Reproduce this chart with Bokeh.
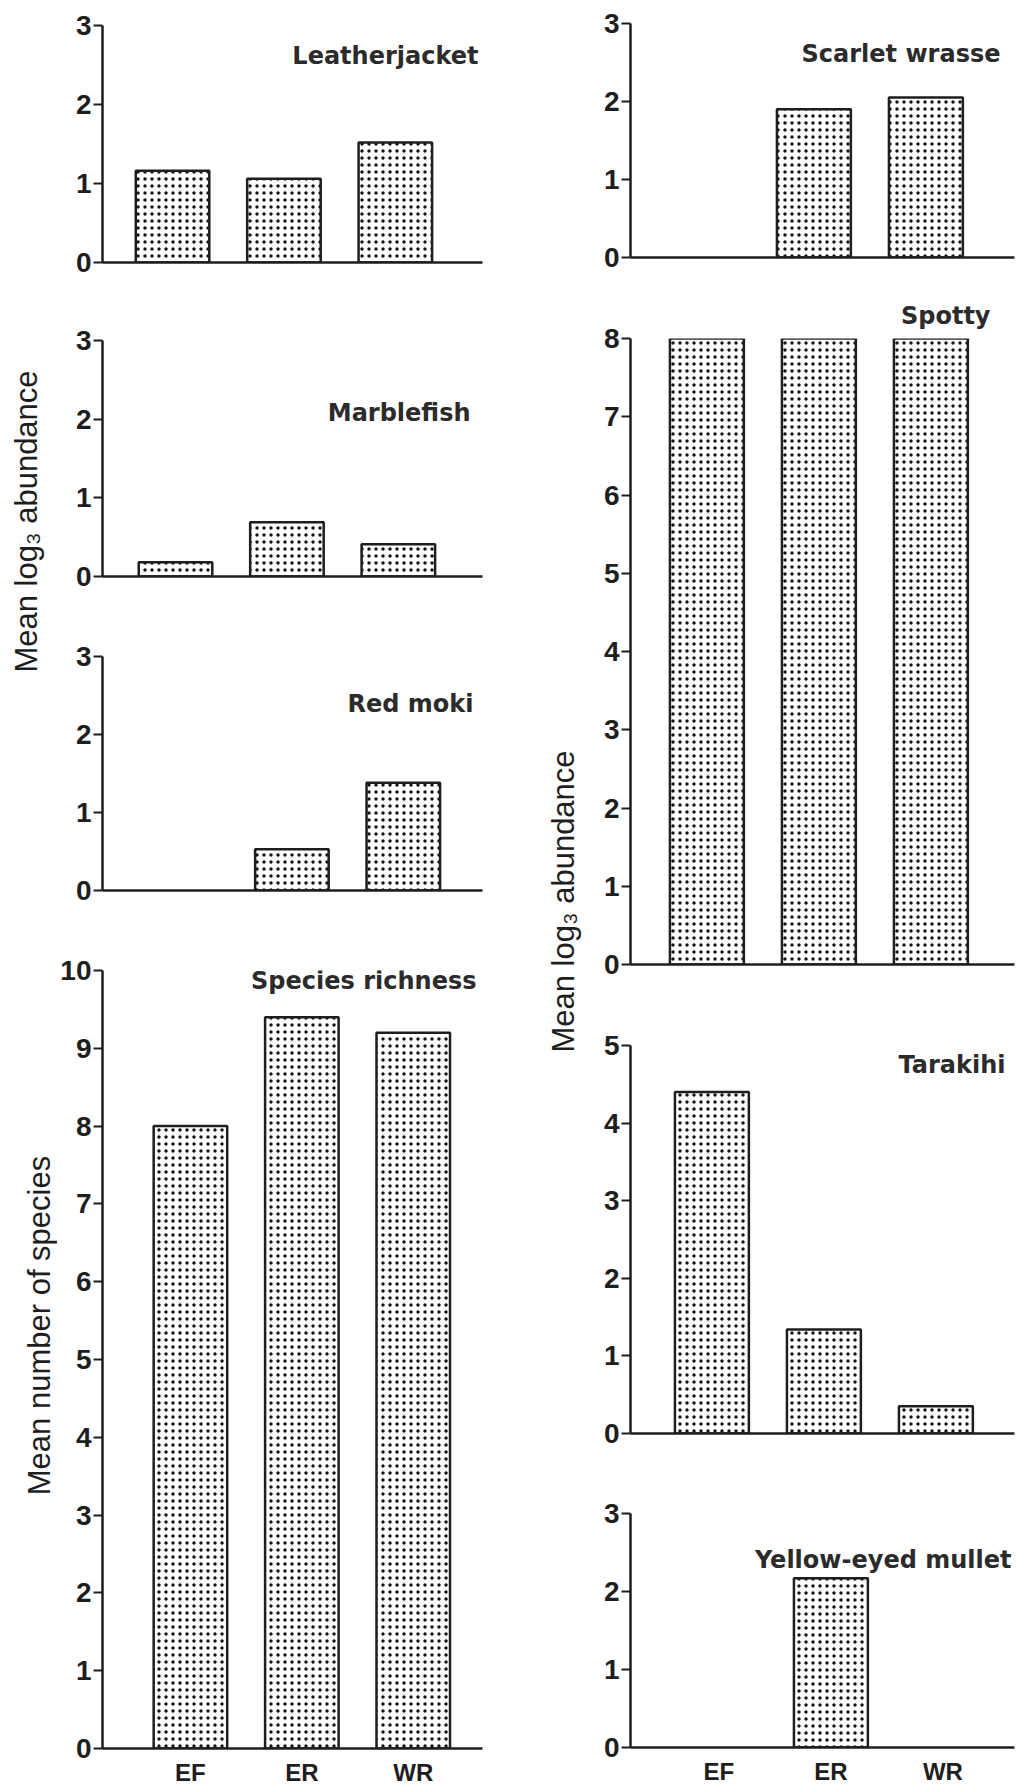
from math import pi
from bokeh.plotting import figure
from bokeh.models import Range1d, FixedTicker, Label
from bokeh.layouts import row, column
from bokeh.embed import file_html
from bokeh.resources import INLINE

# ---------------- data ----------------
sites = ["EF", "ER", "WR"]
leatherjacket = [1.16, 1.06, 1.52]
marblefish = [0.18, 0.69, 0.41]
red_moki = [0.0, 0.53, 1.38]
species_richness = [8.0, 9.4, 9.2]
scarlet_wrasse = [0.0, 1.90, 2.05]
spotty = [8.0, 8.0, 8.0]
tarakihi = [4.40, 1.34, 0.35]
yellow_eyed_mullet = [0.0, 2.17, 0.0]

abundance_label = "Mean log\u2083 abundance"
richness_label = "Mean number of species"

# ---------------- style ----------------
INK = "#1e1e1e"
TICK_FONT = "Liberation Sans"
TITLE_FONT = "DejaVu Sans"
LABEL_FONT = "Liberation Sans"
PX_PER_UNIT = 112.0
BAR_W = 0.66


def panel(title, values, ymax, cw, ch, left, top, fw, fh, axis_ref, tdx, tdy,
          show_sites, title_above=False):
    frame_left_abs = cw_offset[cw] + left
    start = 0.3 - (axis_ref - frame_left_abs) / PX_PER_UNIT
    end = start + fw / PX_PER_UNIT
    p = figure(width=cw, height=ch, output_backend="svg", toolbar_location=None,
               x_range=Range1d(start, end), y_range=Range1d(0, ymax),
               min_border_left=left, min_border_top=top,
               min_border_right=cw - left - fw, min_border_bottom=ch - top - fh,
               background_fill_color="white", border_fill_color="white")
    p.outline_line_color = None
    p.grid.visible = False
    xs = [i + 1 for i, v in enumerate(values) if v > 0]
    tops = [v for v in values if v > 0]
    p.vbar(x=xs, top=tops, bottom=0, width=BAR_W,
           fill_color="white", line_color=INK, line_width=2.5,
           hatch_pattern=".", hatch_color="#151515", hatch_scale=7, hatch_weight=0.8)
    # y axis
    ya = p.yaxis[0]
    ya.ticker = FixedTicker(ticks=list(range(0, ymax + 1)))
    ya.axis_line_width = 2.5
    ya.axis_line_color = INK
    ya.major_tick_line_width = 2
    ya.major_tick_line_color = INK
    ya.major_tick_out = 9
    ya.major_tick_in = 0
    ya.minor_tick_out = 0
    ya.minor_tick_in = 0
    ya.major_label_standoff = 2
    ya.major_label_text_font = TICK_FONT
    ya.major_label_text_font_style = "bold"
    ya.major_label_text_font_size = "28px"
    ya.major_label_text_color = INK
    # x axis
    xa = p.xaxis[0]
    xa.axis_line_width = 2.5
    xa.axis_line_color = INK
    xa.major_tick_out = 0
    xa.major_tick_in = 0
    xa.minor_tick_out = 0
    xa.minor_tick_in = 0
    if show_sites:
        xa.ticker = FixedTicker(ticks=[1, 2, 3])
        xa.major_label_overrides = {i + 1: s for i, s in enumerate(sites)}
        xa.major_label_standoff = 10
        xa.major_label_text_font = TICK_FONT
        xa.major_label_text_font_style = "bold"
        xa.major_label_text_font_size = "24px"
        xa.major_label_text_color = INK
    else:
        xa.ticker = FixedTicker(ticks=[])
    if title_above:
        p.title.text = title
        p.title.align = "right"
        p.title.offset = tdx
        p.title.standoff = tdy
        p.title.text_font = TITLE_FONT
        p.title.text_font_style = "bold"
        p.title.text_font_size = "24px"
        p.title.text_color = "#2b2b2b"
    else:
        p.add_layout(Label(x=end, y=ymax, x_offset=tdx, y_offset=tdy, text=title,
                           text_align="right", text_baseline="alphabetic",
                           text_font=TITLE_FONT, text_font_style="bold",
                           text_font_size="24px", text_color="#2b2b2b"))
    return p


def strip(w, h, labels):
    s = figure(width=w, height=h, output_backend="svg", toolbar_location=None,
               x_range=Range1d(0, w), y_range=Range1d(h, 0),
               x_axis_type=None, y_axis_type=None, min_border=0,
               background_fill_color="white", border_fill_color="white")
    s.outline_line_color = None
    s.grid.visible = False
    for (x, y, t) in labels:
        s.add_layout(Label(x=x, y=y, text=t, angle=pi / 2, text_align="center",
                           text_baseline="middle", text_font=LABEL_FONT,
                           text_font_size="31px", text_color=INK))
    return s


LEFT_STRIP_W, LEFT_COL_W, RIGHT_STRIP_W, RIGHT_COL_W = 57, 451, 77, 431
cw_offset = {LEFT_COL_W: LEFT_STRIP_W, RIGHT_COL_W: LEFT_STRIP_W + LEFT_COL_W + RIGHT_STRIP_W}

# left column
L1 = panel("Leatherjacket", leatherjacket, 3, LEFT_COL_W, 300, 43, 25, 382, 237, 92, -4, -30, False)
L2 = panel("Marblefish", marblefish, 3, LEFT_COL_W, 320, 43, 40, 382, 236, 95, -12, -72, False)
L3 = panel("Red moki", red_moki, 3, LEFT_COL_W, 310, 43, 36, 382, 234, 100, -9, -47, False)
L4 = panel("Species richness", species_richness, 10, LEFT_COL_W, 858, 43, 40, 382, 779, 110, -6, -10, True)

# right column
R1 = panel("Scarlet wrasse", scarlet_wrasse, 3, RIGHT_COL_W, 290, 45, 23, 384, 234, 623, -14, -30, False)
R2 = panel("Spotty", spotty, 8, RIGHT_COL_W, 710, 45, 47, 384, 627, 628, 24, 18, False, title_above=True)
R3 = panel("Tarakihi", tarakihi, 5, RIGHT_COL_W, 470, 45, 45, 384, 388, 633, -9, -19, False)
R4 = panel("Yellow-eyed mullet", yellow_eyed_mullet, 3, RIGHT_COL_W, 318, 45, 43, 384, 234, 640, -3, -46, True)

left_strip = strip(LEFT_STRIP_W, 1788, [(26, 521, abundance_label), (39, 1325, richness_label)])
right_strip = strip(RIGHT_STRIP_W, 1788, [(55, 901, abundance_label)])

layout = row(left_strip, column(L1, L2, L3, L4), right_strip, column(R1, R2, R3, R4))

open("out.html", "w").write(file_html(layout, INLINE))
